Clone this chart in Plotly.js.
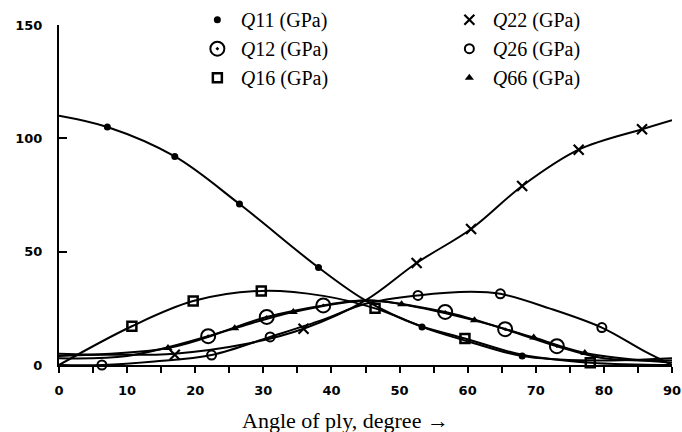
<!DOCTYPE html>
<html>
<head>
<meta charset="utf-8">
<script src="https://cdn.plot.ly/plotly-3.0.1.min.js"></script>
<style>html,body{margin:0;padding:0;background:#fff;}#chart{width:682px;height:432px;}</style>
</head>
<body>
<div id="chart"></div>
<script>
// ---- data (angle in degrees, value in GPa) ----
const seriesNames = ["<i>Q</i>11 (GPa)", "<i>Q</i>22 (GPa)", "<i>Q</i>12 (GPa)", "<i>Q</i>26 (GPa)", "<i>Q</i>16 (GPa)", "<i>Q</i>66 (GPa)"];

const q11CurveAngle = [0, 7.1, 17, 26.5, 38.1, 45, 53.3, 60, 68, 78, 90];
const q11CurveValue = [110, 105, 92, 71, 43, 28.5, 16.8, 10.5, 4, 2, 3];
const q11MarkAngle  = [7.1, 17, 26.5, 38.1, 53.3, 68];
const q11MarkValue  = [105, 92, 71, 43, 16.8, 4];

const q22CurveAngle = [0, 8, 17, 27, 35.9, 45, 52.5, 60.5, 68, 76.3, 85.6, 90];
const q22CurveValue = [5, 4.5, 5, 9, 16, 28.5, 45, 60, 79, 95, 104, 108];
const q22MarkAngle  = [17, 35.9, 52.5, 60.5, 68, 76.3, 85.6];
const q22MarkValue  = [4.5, 16, 45, 60, 79, 95, 104];

const q12CurveAngle = [0, 10, 21.9, 30.5, 38.8, 45, 56.7, 65.5, 73.1, 80, 90];
const q12CurveValue = [3, 4, 12.7, 21.2, 26.3, 28.5, 23.4, 15.8, 8.3, 3, 2];
const q12MarkAngle  = [21.9, 30.5, 38.8, 56.7, 65.5, 73.1];
const q12MarkValue  = [12.7, 21.2, 26.3, 23.4, 15.8, 8.3];

const q26CurveAngle = [0, 6.3, 14, 22.4, 31, 38.8, 45, 52.7, 60.5, 64.8, 72, 79.7, 86, 90];
const q26CurveValue = [0, 0, 1.5, 4.4, 12.4, 20, 27, 30.7, 32.3, 31.4, 25, 16.5, 6, 0];
const q26MarkAngle  = [6.3, 22.4, 31, 52.7, 64.8, 79.7];
const q26MarkValue  = [0, 4.4, 12.4, 30.7, 31.4, 16.5];

const q16CurveAngle = [0, 10.7, 19.7, 29.7, 38.8, 46.4, 53.3, 59.6, 68, 78, 90];
const q16CurveValue = [0, 17.1, 28.2, 32.7, 30.5, 25, 17, 11.7, 4.5, 1, 0];
const q16MarkAngle  = [10.7, 19.7, 29.7, 46.4, 59.6, 78];
const q16MarkValue  = [17.1, 28.2, 32.7, 25, 11.7, 1];

const q66CurveAngle = [0, 16, 25.8, 34.4, 45, 50.3, 61, 69.7, 77.2, 90];
const q66CurveValue = [4, 7.5, 16.2, 23.4, 28.5, 26.8, 19.7, 12.1, 5.3, 1];
const q66MarkAngle  = [16, 25.8, 34.4, 50.3, 61, 69.7, 77.2];
const q66MarkValue  = [7.5, 16.2, 23.4, 26.8, 19.7, 12.1, 5.3];

const xTickVals = [0, 5, 10, 15, 20, 25, 30, 35, 40, 45, 50, 55, 60, 65, 70, 75, 80, 85, 90];
const xTickText = ["0", "", "10", "", "20", "", "30", "", "40", "", "50", "", "60", "", "70", "", "80", "", "90"];
const yTickVals = [0, 50, 100, 150];
const yTickText = ["0", "50", "100", "150"];
const xTitle = "Angle of ply, degree \u2192";

// ---- styling ----
const ink = "#000";
const series = [
  {name: seriesNames[0], cx: q11CurveAngle, cy: q11CurveValue, mx: q11MarkAngle, my: q11MarkValue,
   marker: {symbol: "circle", size: 7, color: ink}},
  {name: seriesNames[1], cx: q22CurveAngle, cy: q22CurveValue, mx: q22MarkAngle, my: q22MarkValue,
   marker: {symbol: "x-thin-open", size: 10, color: ink, line: {color: ink, width: 2.2}}},
  {name: seriesNames[2], cx: q12CurveAngle, cy: q12CurveValue, mx: q12MarkAngle, my: q12MarkValue,
   marker: {symbol: "circle-open-dot", size: 14, color: ink, line: {color: ink, width: 2}}},
  {name: seriesNames[3], cx: q26CurveAngle, cy: q26CurveValue, mx: q26MarkAngle, my: q26MarkValue,
   marker: {symbol: "circle-open", size: 9, color: ink, line: {color: ink, width: 2}}},
  {name: seriesNames[4], cx: q16CurveAngle, cy: q16CurveValue, mx: q16MarkAngle, my: q16MarkValue,
   marker: {symbol: "square-open", size: 9, color: ink, line: {color: ink, width: 2.5}}},
  {name: seriesNames[5], cx: q66CurveAngle, cy: q66CurveValue, mx: q66MarkAngle, my: q66MarkValue,
   marker: {symbol: "triangle-up", size: 8, color: ink}}
];

const traces = [];
series.forEach(s => {
  traces.push({x: s.cx, y: s.cy, mode: "lines", showlegend: false, hoverinfo: "skip",
    line: {shape: "spline", smoothing: 1, color: ink, width: 2}, cliponaxis: false});
});
series.forEach(s => {
  traces.push({x: s.mx, y: s.my, mode: "markers", name: s.name, marker: s.marker, cliponaxis: false});
});

const tickFont = {family: "DejaVu Sans", size: 13, color: ink, weight: "bold"};

const layout = {
  width: 682, height: 432,
  margin: {l: 59, r: 10, t: 25, b: 67, autoexpand: false},
  paper_bgcolor: "#fff", plot_bgcolor: "#fff",
  showlegend: true,
  legend: {
    orientation: "h", x: 0.22, y: 1.073, xanchor: "left", yanchor: "top",
    entrywidth: 200, entrywidthmode: "pixels", traceorder: "normal", itemwidth: 37,
    font: {family: "Liberation Serif", size: 20, color: ink},
    bgcolor: "rgba(0,0,0,0)", itemclick: false, tracegroupgap: 0
  },
  xaxis: {
    range: [0, 90], tickmode: "array", tickvals: xTickVals, ticktext: xTickText,
    showgrid: false, zeroline: false, showline: true, linecolor: ink, linewidth: 2,
    ticks: "outside", ticklen: 6, tickwidth: 2, tickcolor: ink,
    tickfont: tickFont, ticklabelstandoff: 6
  },
  yaxis: {
    range: [0, 150], tickmode: "array", tickvals: yTickVals, ticktext: yTickText,
    showgrid: false, zeroline: false, showline: true, linecolor: ink, linewidth: 2,
    ticks: "inside", ticklen: 8, tickwidth: 2, tickcolor: ink,
    tickfont: tickFont, ticklabelstandoff: 12
  },
  annotations: [{
    text: xTitle, xref: "paper", yref: "paper", x: 0.468, y: -0.162,
    xanchor: "center", yanchor: "middle", showarrow: false,
    font: {family: "Liberation Serif", size: 22, color: ink}
  }]
};

Plotly.newPlot("chart", traces, layout, {staticPlot: true, displayModeBar: false});
</script>
</body>
</html>
